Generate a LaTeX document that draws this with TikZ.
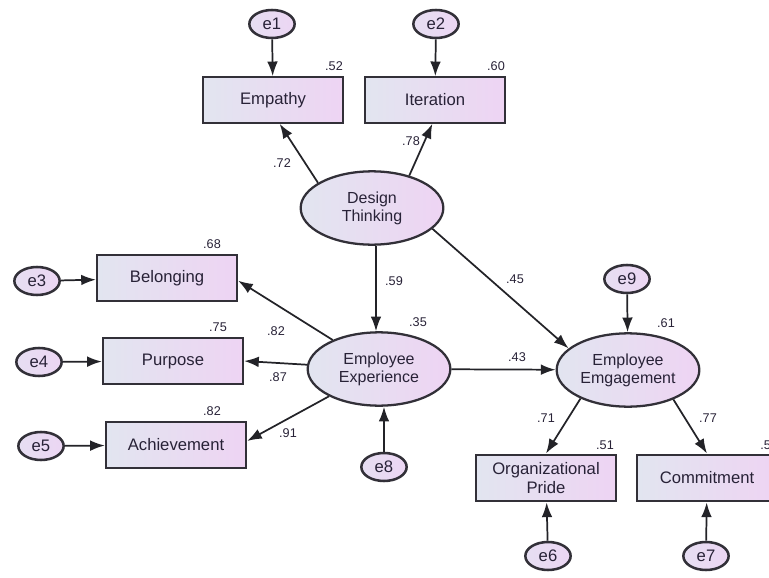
\documentclass[tikz,border=0pt]{standalone}
\usepackage{fontspec}
\setmainfont{Liberation Sans}
\usetikzlibrary{shapes.geometric,arrows.meta}
\definecolor{lleft}{RGB}{226,229,240}
\definecolor{lright}{RGB}{238,212,243}
\definecolor{eleft}{RGB}{230,222,242}
\definecolor{eright}{RGB}{236,214,243}
\definecolor{edgec}{RGB}{50,48,56}
\definecolor{linec}{RGB}{35,35,40}
\definecolor{txt}{RGB}{40,34,55}
\begin{document}
\begin{tikzpicture}[x=0.75pt,y=-0.75pt,
  obs/.style={draw=edgec,line width=1.7pt,rectangle,minimum width=105pt,minimum height=34pt,
    left color=lleft,right color=lright,text=txt,align=center,inner sep=0pt,
    font=\fontsize{12.5}{14}\selectfont},
  lat/.style={draw=edgec,line width=1.7pt,ellipse,minimum width=107pt,minimum height=55pt,
    left color=lleft,right color=lright,text=txt,align=center,inner sep=0pt,
    font=\fontsize{12}{13.5}\selectfont},
  err/.style={draw=edgec,line width=1.9pt,ellipse,minimum width=34pt,minimum height=21pt,
    left color=eleft,right color=eright,text=txt,inner sep=0pt,
    font=\fontsize{12.5}{14}\selectfont},
  arr/.style={draw=linec,line width=1.3pt,-{Latex[length=11pt,width=8pt]}},
  num/.style={text=txt,inner sep=0pt,font=\fontsize{9.5}{11}\selectfont}
]
\useasboundingbox (0,0) rectangle (769,578);

% latent variables
\node[lat] (dt)  at (372,208) {Design\\Thinking};
\node[lat] (ee)  at (379,369) {Employee\\Experience};
\node[lat] (eng) at (628,370) {Employee\\Emgagement};

% observed variables
\node[obs] (emp) at (273,100) {Empathy};
\node[obs] (itr) at (435,100) {Iteration};
\node[obs] (bel) at (167,278) {Belonging};
\node[obs] (pur) at (173,361) {Purpose};
\node[obs] (ach) at (176,445) {Achievement};
\node[obs,minimum height=35pt] (op)  at (546,478) {Organizational\\Pride};
\node[obs,minimum height=35pt] (com) at (707,478) {Commitment};

% error terms
\node[err] (e1) at (272,24) {e1};
\node[err] (e2) at (436,24) {e2};
\node[err] (e3) at (37,281) {e3};
\node[err] (e4) at (39,362) {e4};
\node[err] (e5) at (41,446) {e5};
\node[err] (e8) at (384,467) {e8};
\node[err] (e9) at (627,279) {e9};
\node[err] (e6) at (548,556) {e6};
\node[err] (e7) at (706,556) {e7};

% error arrows
\draw[arr] (e1) -- (emp);
\draw[arr] (e2) -- (itr);
\draw[arr] (e3) -- (bel);
\draw[arr] (e4) -- (pur);
\draw[arr] (e5) -- (ach);
\draw[arr] (e8) -- (e8 |- ee.south);
\draw[arr] (e9) -- (eng);
\draw[arr] (e6) -- (op);
\draw[arr] (e7) -- (com);

% structural / measurement paths
\draw[arr] (dt.155) -- ([xshift=5pt]emp.south);
\draw[arr] (dt.41) -- ([xshift=-2pt]itr.south);
\draw[arr] (dt.south -| 376,0) -- (376,0 |- ee.north);
\draw[arr] (dt.-19) -- (eng.160);
\draw[arr] (ee) -- ([yshift=-2pt]bel.east);
\draw[arr] (ee) -- (pur.east);
\draw[arr] (ee) -- ([yshift=3pt]ach.east);
\draw[arr] (ee) -- (eng);
\draw[arr] (eng.211) -- (op.north);
\draw[arr] (eng.-33) -- (com.north);

% coefficients
\node[num] (n52) at (334,66) {.52};
\node[num] (n60) at (496,66) {.60};
\node[num] (n72) at (282,163) {.72};
\node[num] (n78) at (411,141) {.78};
\node[num] (n68) at (212,244) {.68};
\node[num] (n75) at (218,327) {.75};
\node[num] (n82a) at (276,331) {.82};
\node[num] (n87) at (278,377) {.87};
\node[num] (n82b) at (212,411) {.82};
\node[num] (n91) at (288,433) {.91};
\node[num] (n59) at (394,281) {.59};
\node[num] (n35) at (418,322) {.35};
\node[num] (n45) at (515,279) {.45};
\node[num] (n43) at (517,357) {.43};
\node[num] (n61) at (666,323) {.61};
\node[num] (n71) at (546,418) {.71};
\node[num] (n77) at (708,418) {.77};
\node[num] (n51) at (605,445) {.51};
\node[num,anchor=west] (n5) at (760,445) {.5};
\end{tikzpicture}
\end{document}
